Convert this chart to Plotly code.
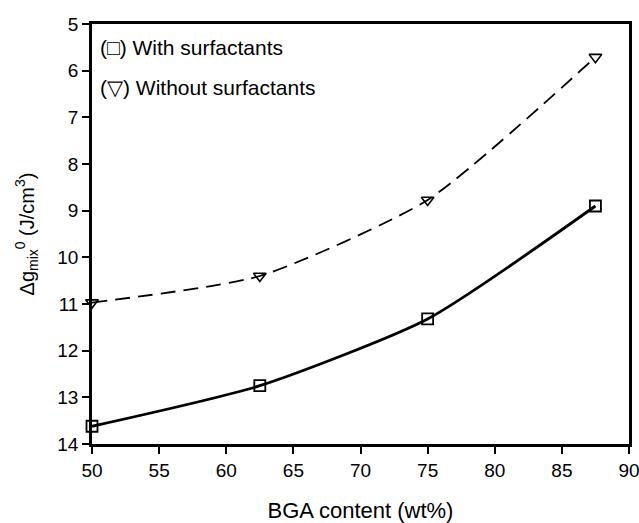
import plotly.graph_objects as go

bga = [50, 62.5, 75, 87.5]
with_surf = [13.62, 12.75, 11.32, 8.90]
without_surf = [10.97, 10.40, 8.77, 5.71]
x_ticks = [50, 55, 60, 65, 70, 75, 80, 85, 90]
y_ticks = [5, 6, 7, 8, 9, 10, 11, 12, 13, 14]

fig = go.Figure()
fig.add_trace(go.Scatter(
    x=bga, y=without_surf, mode="lines+markers", cliponaxis=False,
    line=dict(color="black", width=1.8, dash="15px,8px", shape="spline", smoothing=0.6),
    marker=dict(symbol="triangle-down-open", size=11, color="black", line=dict(width=1.6)),
    showlegend=False))
fig.add_trace(go.Scatter(
    x=bga, y=with_surf, mode="lines+markers", cliponaxis=False,
    line=dict(color="black", width=2.8, shape="spline", smoothing=0.6),
    marker=dict(symbol="square-open", size=11, color="black", line=dict(width=1.8)),
    showlegend=False))

font = dict(family="Liberation Sans, Arial, sans-serif", color="black")
fig.add_annotation(x=0.012, y=0.945, xref="paper", yref="paper", xanchor="left", yanchor="middle",
                   text="(□) With surfactants", showarrow=False, font=dict(size=21, **font))
fig.add_annotation(x=0.012, y=0.848, xref="paper", yref="paper", xanchor="left", yanchor="middle",
                   text="(▽) Without surfactants", showarrow=False, font=dict(size=21, **font))

fig.update_layout(
    width=639, height=523,
    margin=dict(l=92, r=10, t=24, b=79),
    plot_bgcolor="white", paper_bgcolor="white",
    font=font,
    xaxis=dict(range=[50, 90], tickvals=x_ticks, ticks="outside", ticklen=7, tickwidth=1.5,
               tickcolor="black", showline=True, linecolor="black", linewidth=2.5, mirror=True,
               showgrid=False, zeroline=False, tickfont=dict(size=19, **font), automargin=False,
               ticklabeloverflow="allow",
               title=dict(text="BGA content (wt%)", font=dict(size=22, **font), standoff=28)),
    yaxis=dict(range=[14, 5], tickvals=y_ticks, ticks="outside", ticklen=7, tickwidth=1.5,
               tickcolor="black", showline=True, linecolor="black", linewidth=2.5, mirror=True,
               showgrid=False, zeroline=False, tickfont=dict(size=19, **font), automargin=False,
               ticklabeloverflow="allow",
               title=dict(text="Δg<sub>mix</sub><sup>0</sup> (J/cm<sup>3</sup>)", font=dict(size=20, **font), standoff=18)),
)
fig.write_html("out.html")
